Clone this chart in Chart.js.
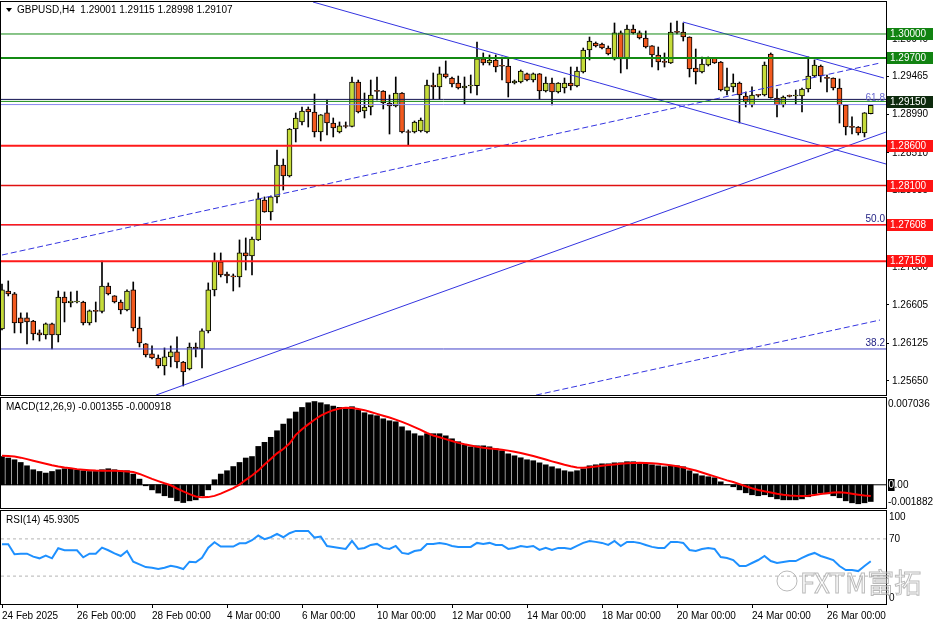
<!DOCTYPE html>
<html>
<head>
<meta charset="utf-8">
<script src="https://cdn.jsdelivr.net/npm/chart.js@4.4.1/dist/chart.umd.min.js"></script>
<style>
  html, body { margin: 0; padding: 0; background: #fff; }
  #wrap { position: relative; width: 936px; height: 624px; overflow: hidden; background: #fff; }
  canvas { position: absolute; left: 0; }
</style>
</head>
<body>
<div id="wrap">
  <canvas id="main" width="936" height="398" style="top:0"></canvas>
  <canvas id="macd" width="936" height="112" style="top:397px"></canvas>
  <canvas id="rsi" width="936" height="115" style="top:509px"></canvas>
</div>
<script>
// GBPUSD H4, 24 Feb - 26 Mar 2025, one entry per bar
const symbol = 'GBPUSD,H4';

const open = [
  1.26302,1.26778,1.26741,1.26440,1.26440,1.26402,1.26252,1.26227,1.26365,1.26227,
  1.26703,1.26628,1.26640,1.26640,1.26377,1.26528,1.26522,1.26841,1.26716,1.26640,
  1.26540,1.26791,1.26314,1.26114,1.25989,1.25938,1.25838,1.25951,1.26014,1.25888,
  1.25801,1.26076,1.26051,1.26277,1.26791,1.27142,1.26991,1.26960,1.26954,1.27255,
  1.27217,1.27418,1.27919,1.27769,1.27957,1.28358,1.28220,1.28809,1.28897,1.29060,
  1.29022,1.28771,1.29010,1.28884,1.28771,1.28847,1.28840,1.29398,1.29035,1.29085,
  1.29285,1.29285,1.29135,1.29097,1.29260,1.28771,1.28771,1.28784,1.28771,1.29361,
  1.29336,1.29499,1.29448,1.29386,1.29323,1.29348,1.29352,1.29687,1.29636,1.29674,
  1.29599,1.29599,1.29386,1.29398,1.29499,1.29423,1.29499,1.29285,1.29386,1.29273,
  1.29323,1.29386,1.29348,1.29524,1.29799,1.29887,1.29875,1.29824,1.29687,1.30013,
  1.29687,1.30063,1.30013,1.29950,1.29850,1.29737,1.29649,1.29636,1.30025,1.30025,
  1.29962,1.29574,1.29524,1.29611,1.29699,1.29649,1.29285,1.29336,1.29386,1.29223,
  1.29110,1.29235,1.29235,1.29749,1.29198,1.29110,1.29223,1.29223,1.29223,1.29310,
  1.29473,1.29599,1.29448,1.29448,1.29323,1.29110,1.28834,1.28834,1.28759,1.29001
];
const high = [
  1.26866,1.26904,1.26760,1.26503,1.26503,1.26410,1.26289,1.26377,1.26377,1.26778,
  1.26766,1.26766,1.26778,1.26650,1.26540,1.26640,1.27154,1.26879,1.26720,1.26665,
  1.26791,1.26891,1.26452,1.26120,1.26089,1.25976,1.26064,1.26089,1.26202,1.25895,
  1.26126,1.26126,1.26302,1.26879,1.27255,1.27255,1.27016,1.26991,1.27418,1.27443,
  1.27455,1.28007,1.27957,1.27969,1.28546,1.28433,1.28815,1.29010,1.29085,1.29085,
  1.29248,1.28990,1.29172,1.28947,1.28897,1.28897,1.29461,1.29423,1.29260,1.29423,
  1.29461,1.29290,1.29235,1.29461,1.29265,1.28797,1.28909,1.28947,1.29423,1.29511,
  1.29586,1.29662,1.29460,1.29473,1.29461,1.29486,1.29900,1.29762,1.29737,1.29737,
  1.29712,1.29699,1.29423,1.29549,1.29511,1.29511,1.29505,1.29461,1.29448,1.29390,
  1.29448,1.29586,1.29586,1.29824,1.29962,1.29900,1.29887,1.29850,1.30138,1.30038,
  1.30113,1.30113,1.30038,1.30038,1.29855,1.29837,1.29762,1.30138,1.30163,1.30138,
  1.29965,1.29812,1.29712,1.29712,1.29705,1.29655,1.29574,1.29499,1.29398,1.29273,
  1.29336,1.29240,1.29649,1.29762,1.29310,1.29223,1.29235,1.29298,1.29323,1.29712,
  1.29674,1.29611,1.29486,1.29450,1.29436,1.29115,1.28960,1.28840,1.29015,1.29115
];
const low = [
  1.26289,1.26716,1.26252,1.26252,1.26114,1.26164,1.26151,1.26176,1.26051,1.26139,
  1.26390,1.26578,1.26628,1.26352,1.26352,1.26390,1.26503,1.26728,1.26628,1.26490,
  1.26528,1.26277,1.26076,1.25951,1.25926,1.25813,1.25725,1.25826,1.25813,1.25587,
  1.25788,1.25951,1.25813,1.26252,1.26716,1.26954,1.26879,1.26778,1.26828,1.27041,
  1.26979,1.27410,1.27765,1.27668,1.27881,1.28044,1.28207,1.28646,1.28859,1.28834,
  1.28709,1.28659,1.28734,1.28709,1.28759,1.28822,1.28835,1.29010,1.28947,1.28985,
  1.29172,1.29060,1.28746,1.29085,1.28759,1.28608,1.28759,1.28771,1.28759,1.29185,
  1.29185,1.29448,1.29336,1.29310,1.29122,1.29260,1.29235,1.29611,1.29611,1.29524,
  1.29423,1.29210,1.29373,1.29386,1.29411,1.29398,1.29185,1.29273,1.29110,1.29260,
  1.29260,1.29298,1.29336,1.29511,1.29674,1.29837,1.29812,1.29737,1.29674,1.29511,
  1.29561,1.30000,1.29937,1.29824,1.29586,1.29549,1.29586,1.29630,1.30000,1.29912,
  1.29461,1.29373,1.29511,1.29599,1.29630,1.29285,1.29235,1.29273,1.28884,1.29085,
  1.29085,1.29210,1.29223,1.29195,1.28960,1.29085,1.29210,1.29122,1.29022,1.29273,
  1.29461,1.29398,1.29273,1.29298,1.28884,1.28734,1.28746,1.28734,1.28709,1.28998
];
const close = [
  1.26791,1.26741,1.26377,1.26377,1.26390,1.26239,1.26227,1.26365,1.26227,1.26703,
  1.26628,1.26653,1.26645,1.26377,1.26528,1.26522,1.26841,1.26741,1.26640,1.26540,
  1.26778,1.26314,1.26126,1.25976,1.25938,1.25838,1.25951,1.26014,1.25888,1.25763,
  1.26076,1.26051,1.26277,1.26791,1.27154,1.26979,1.26966,1.26954,1.27255,1.27217,
  1.27430,1.27932,1.27769,1.27957,1.28358,1.28220,1.28809,1.28947,1.29035,1.29022,
  1.28771,1.28985,1.28884,1.28822,1.28847,1.28840,1.29398,1.29022,1.29085,1.29235,
  1.29280,1.29135,1.29097,1.29260,1.28771,1.28765,1.28897,1.28922,1.29361,1.29336,
  1.29499,1.29461,1.29373,1.29323,1.29348,1.29352,1.29687,1.29636,1.29674,1.29586,
  1.29595,1.29386,1.29411,1.29536,1.29423,1.29499,1.29285,1.29386,1.29273,1.29386,
  1.29386,1.29348,1.29536,1.29799,1.29912,1.29850,1.29824,1.29749,1.30013,1.29687,
  1.30063,1.30013,1.29950,1.29837,1.29737,1.29649,1.29645,1.30025,1.30020,1.29962,
  1.29561,1.29524,1.29624,1.29699,1.29636,1.29298,1.29336,1.29386,1.29235,1.29147,
  1.29235,1.29230,1.29611,1.29198,1.29110,1.29210,1.29218,1.29228,1.29310,1.29473,
  1.29611,1.29473,1.29443,1.29323,1.29110,1.28834,1.28830,1.28759,1.29010,1.29107
];

// MACD(12,26,9): main histogram and signal line
const macdMain = [
  0.00229,0.00217,0.00203,0.00181,0.00154,0.00122,0.00108,0.00095,0.00108,0.00122,
  0.00130,0.00130,0.00122,0.00114,0.00108,0.00108,0.00122,0.00130,0.00122,0.00114,
  0.00114,0.00087,0.00046,-0.00008,-0.00041,-0.00067,-0.00089,-0.00103,-0.00130,-0.00144,
  -0.00130,-0.00122,-0.00089,-0.00041,0.00041,0.00087,0.00114,0.00148,0.00181,0.00217,
  0.00229,0.00311,0.00344,0.00385,0.00438,0.00492,0.00535,0.00590,0.00627,0.00665,
  0.00675,0.00665,0.00650,0.00638,0.00628,0.00624,0.00633,0.00608,0.00584,0.00568,
  0.00560,0.00535,0.00519,0.00511,0.00470,0.00438,0.00414,0.00397,0.00414,0.00414,
  0.00414,0.00397,0.00373,0.00349,0.00324,0.00308,0.00316,0.00316,0.00308,0.00292,
  0.00276,0.00251,0.00235,0.00219,0.00203,0.00195,0.00178,0.00162,0.00146,0.00130,
  0.00114,0.00105,0.00114,0.00130,0.00154,0.00162,0.00170,0.00170,0.00178,0.00178,
  0.00187,0.00187,0.00178,0.00170,0.00162,0.00154,0.00146,0.00154,0.00154,0.00146,
  0.00114,0.00089,0.00073,0.00065,0.00057,0.00024,0.00002,-0.00016,-0.00041,-0.00065,
  -0.00081,-0.00089,-0.00081,-0.00097,-0.00114,-0.00122,-0.00122,-0.00122,-0.00114,-0.00097,
  -0.00073,-0.00065,-0.00073,-0.00089,-0.00105,-0.00130,-0.00146,-0.00154,-0.00146,-0.001355
];
const macdSignal = [
  0.00235,0.00233,0.00230,0.00220,0.00208,0.00195,0.00183,0.00170,0.00158,0.00148,
  0.00140,0.00134,0.00127,0.00122,0.00118,0.00115,0.00114,0.00114,0.00114,0.00112,
  0.00108,0.00103,0.00088,0.00068,0.00048,0.00030,0.00012,-0.00004,-0.00030,-0.00054,
  -0.00076,-0.00095,-0.00102,-0.00100,-0.00090,-0.00072,-0.00050,-0.00027,0.00002,0.00040,
  0.00075,0.00115,0.00165,0.00210,0.00255,0.00290,0.00335,0.00405,0.00450,0.00490,
  0.00527,0.00560,0.00585,0.00605,0.00618,0.00624,0.00622,0.00615,0.00605,0.00590,
  0.00575,0.00560,0.00545,0.00528,0.00510,0.00490,0.00468,0.00445,0.00420,0.00400,
  0.00385,0.00370,0.00355,0.00340,0.00328,0.00318,0.00308,0.00300,0.00295,0.00290,
  0.00284,0.00277,0.00268,0.00258,0.00246,0.00233,0.00219,0.00205,0.00190,0.00176,
  0.00162,0.00150,0.00140,0.00138,0.00142,0.00148,0.00154,0.00160,0.00165,0.00170,
  0.00174,0.00177,0.00178,0.00177,0.00175,0.00170,0.00165,0.00158,0.00150,0.00140,
  0.00128,0.00116,0.00100,0.00084,0.00068,0.00052,0.00036,0.00022,0.00005,-0.00012,
  -0.00028,-0.00042,-0.00053,-0.00062,-0.00072,-0.00080,-0.00086,-0.00089,-0.00090,-0.00088,
  -0.00082,-0.00075,-0.00068,-0.00062,-0.00060,-0.00064,-0.00072,-0.00080,-0.00087,-0.000918
];

// RSI(14)
const rsi = [
  64.2,64.2,53.5,54.1,54.1,50.9,49.1,52.0,49.1,59.9,
  57.8,57.8,57.8,50.2,54.1,54.1,60.6,57.8,54.5,51.6,
  57.0,45.5,42.6,39.7,39.0,37.6,39.0,41.1,39.7,37.6,
  45.5,44.8,49.8,60.6,66.4,61.7,61.7,61.7,65.3,65.3,
  68.6,73.6,69.7,71.8,75.4,71.8,76.1,78.6,78.6,78.6,
  71.4,72.5,62.4,61.4,60.3,59.2,67.8,59.2,60.3,63.5,
  64.6,60.3,59.2,62.4,54.9,53.8,57.0,58.1,64.6,64.6,
  65.7,64.6,62.4,61.4,61.4,61.4,65.7,64.6,65.7,63.5,
  63.5,59.2,60.3,62.4,61.4,62.4,58.1,60.3,58.1,60.3,
  60.3,59.2,62.4,65.7,67.8,66.8,65.7,63.5,67.8,62.4,
  66.8,66.8,65.7,63.5,61.4,60.3,60.3,66.8,66.8,65.7,
  58.1,57.0,59.2,60.3,59.2,50.5,49.5,47.3,40.8,40.8,
  44.1,47.3,51.6,46.2,44.1,45.1,46.2,46.2,49.5,52.7,
  54.9,51.6,49.5,47.3,40.8,36.5,36.5,35.4,40.8,45.9305
];

// time axis: bar index of each date label
const dateTickBars = [0, 12, 24, 36, 48, 60, 72, 84, 96, 108, 120, 132];
const dateLabels = ['24 Feb 2025', '26 Feb 00:00', '28 Feb 00:00', '4 Mar 00:00', '6 Mar 00:00', '10 Mar 00:00',
  '12 Mar 00:00', '14 Mar 00:00', '18 Mar 00:00', '20 Mar 00:00', '24 Mar 00:00', '26 Mar 00:00'];

// price scale
const priceTicks = [1.29940, 1.29465, 1.28990, 1.28510, 1.28035, 1.27560, 1.27080, 1.26605, 1.26125, 1.25650];

// horizontal levels drawn across the main window
const levelPrices = [1.30000, 1.29700, 1.29180, 1.29155, 1.28600, 1.28100, 1.27608, 1.27150];
const levelColors = ['#138a13', '#138a13', '#101050', '#138a13', '#ff1a1a', '#e01010', '#ff1a1a', '#ff1a1a'];
const levelWidths = [1, 2, 1, 1, 2, 1.5, 1.5, 2];

// price tags on the right axis
const tagPrices = [1.30000, 1.29700, 1.29150, 1.28600, 1.28100, 1.27608, 1.27150];
const tagColors = ['#128312', '#128312', '#0d2a0d', '#ff1414', '#ff1414', '#ff1414', '#ff1414'];

// fibonacci retracement levels
const fibNames = ['61.8', '50.0', '38.2'];
const fibPrices = [1.29115, 1.27608, 1.26051];
const fibColors = ['#8888ee', '#3030c0', '#4040c8'];
const fibTextColors = ['#6a6ad0', '#1c1c80', '#1c1c80'];

// trend lines: [bar, price] at each end
const trendFrom = [[49.76, 1.30401], [108.96, 1.30150], [24.64, 1.25473], [0, 1.27229], [85.44, 1.25473]];
const trendTo = [[141.44, 1.28370], [141.1, 1.29448], [141.44, 1.28771], [140.48, 1.29636], [140.48, 1.26414]];
const trendDashed = [false, false, false, true, true];

const X_MIN = -0.16, X_MAX = 141.44;
const BULL = '#c6dc3a', BEAR = '#f25a1f', TREND = '#3434e0';
const FONT = '"Liberation Sans", Arial, sans-serif';

Chart.defaults.font.family = FONT;
Chart.defaults.font.size = 10;
Chart.defaults.color = '#000';
Chart.defaults.animation = false;
Chart.defaults.events = [];
Chart.defaults.plugins.legend.display = false;
Chart.defaults.plugins.tooltip.enabled = false;

const n = close.length;

function segment(x1, y1, x2, y2, color, width, dash, order) {
  return {
    type: 'line',
    data: [{x: x1, y: y1}, {x: x2, y: y2}],
    borderColor: color, borderWidth: width, borderDash: dash || [],
    pointRadius: 0, tension: 0, order: order || 1
  };
}

function fixRight(scale) {
  scale.width = 50;
  scale.paddingTop = 0;
  scale.paddingBottom = 0;
}

const xHidden = {type: 'linear', min: X_MIN, max: X_MAX, offset: false, display: false, grid: {offset: false}};

const frame = {
  id: 'frame',
  afterDraw(chart) {
    const {ctx, chartArea: a} = chart;
    ctx.save();
    ctx.strokeStyle = '#000';
    ctx.lineWidth = 1;
    ctx.strokeRect(Math.round(a.left) - 0.5, Math.round(a.top) - 0.5,
      Math.round(a.right - a.left) + 1, Math.round(a.bottom - a.top) + 1);
    ctx.restore();
  }
};

// ---------- main price window ----------
const wicks = [], bodies = [], bodyColors = [];
for (let i = 0; i < n; i++) {
  wicks.push({x: i, y: [low[i], high[i]]});
  bodies.push({x: i, y: [open[i], close[i]]});
  bodyColors.push(close[i] >= open[i] ? BULL : BEAR);
}

const mainSets = [
  {type: 'bar', data: wicks, backgroundColor: '#000', barThickness: 1, grouped: false, order: 6},
  {type: 'bar', data: bodies, backgroundColor: bodyColors, borderColor: '#000', borderWidth: 1,
   borderSkipped: false, barThickness: 5, grouped: false, minBarLength: 1, order: 5}
];
fibPrices.forEach((p, k) => mainSets.push(segment(X_MIN, p, X_MAX, p, fibColors[k], 1, null, 2)));
levelPrices.forEach((p, k) => mainSets.push(segment(X_MIN, p, X_MAX, p, levelColors[k], levelWidths[k], null, 1)));
trendFrom.forEach((s, k) => mainSets.push(segment(s[0], s[1], trendTo[k][0], trendTo[k][1], TREND, 1,
  trendDashed[k] ? [6, 3] : null, 1)));

const mainLabels = {
  id: 'mainLabels',
  afterDraw(chart) {
    const {ctx, chartArea: a} = chart;
    const y = chart.scales.y;
    ctx.save();
    ctx.font = '10px ' + FONT;
    // fibo captions
    ctx.textAlign = 'right';
    ctx.textBaseline = 'bottom';
    fibPrices.forEach((p, k) => {
      ctx.fillStyle = fibTextColors[k];
      ctx.fillText(fibNames[k], a.right - 1, y.getPixelForValue(p) - 1);
    });
    // price tags
    ctx.textAlign = 'left';
    ctx.textBaseline = 'middle';
    tagPrices.forEach((p, k) => {
      const py = Math.round(y.getPixelForValue(p));
      ctx.fillStyle = tagColors[k];
      ctx.fillRect(a.right + 1, py - 6, 46, 12);
      ctx.fillStyle = '#fff';
      ctx.fillText(p.toFixed(5), a.right + 4, py);
    });
    // header
    ctx.fillStyle = '#000';
    ctx.beginPath();
    ctx.moveTo(6, 8); ctx.lineTo(12, 8); ctx.lineTo(9, 12); ctx.closePath();
    ctx.fill();
    ctx.fillText(symbol + '  ' + open[n - 1].toFixed(5) + ' ' + high[n - 1].toFixed(5) + ' ' +
      low[n - 1].toFixed(5) + ' ' + close[n - 1].toFixed(5), 17, 10);
    ctx.restore();
  }
};

new Chart(document.getElementById('main'), {
  type: 'bar',
  data: {datasets: mainSets},
  options: {
    responsive: false,
    devicePixelRatio: 1,
    layout: {padding: {left: 1, top: 2, right: 0, bottom: 3}},
    scales: {
      x: xHidden,
      y: {
        type: 'linear', position: 'right', min: 1.25474, max: 1.30401,
        afterBuildTicks: s => { s.ticks = priceTicks.map(v => ({value: v})); },
        afterFit: fixRight,
        ticks: {callback: v => Number(v).toFixed(5), padding: 3, autoSkip: false},
        grid: {drawOnChartArea: false, drawTicks: true, tickLength: 3, color: '#000'},
        border: {display: true, color: '#000'}
      }
    }
  },
  plugins: [frame, mainLabels]
});

// ---------- MACD window ----------
const macdLabels = {
  id: 'macdLabels',
  afterDraw(chart) {
    const {ctx, chartArea: a} = chart;
    const y = chart.scales.y;
    ctx.save();
    ctx.font = '10px ' + FONT;
    ctx.fillStyle = '#000';
    ctx.textAlign = 'left';
    ctx.textBaseline = 'middle';
    ctx.fillText('MACD(12,26,9) ' + macdMain[n - 1].toFixed(6) + ' ' + macdSignal[n - 1].toFixed(6), a.left + 5, a.top + 9);
    const x0 = a.right + 2;
    ctx.textBaseline = 'top';
    ctx.fillText(y.max.toFixed(6), x0, a.top + 1);
    ctx.textBaseline = 'bottom';
    ctx.fillText(y.min.toFixed(6), x0, a.bottom - 1);
    const zy = Math.round(y.getPixelForValue(0));
    const w0 = ctx.measureText('0').width;
    ctx.fillRect(x0, zy - 6, w0 + 1, 12);
    ctx.textBaseline = 'middle';
    ctx.fillStyle = '#fff';
    ctx.fillText('0', x0 + 0.5, zy);
    ctx.fillStyle = '#000';
    ctx.fillText('.00', x0 + w0 + 1, zy);
    ctx.restore();
  }
};

new Chart(document.getElementById('macd'), {
  type: 'bar',
  data: {
    datasets: [
      {type: 'bar', data: macdMain.map((v, i) => ({x: i, y: v})), backgroundColor: '#000',
       barThickness: 5, grouped: false, order: 3},
      segment(X_MIN, 0, X_MAX, 0, '#000', 1, null, 2),
      {type: 'line', data: macdSignal.map((v, i) => ({x: i, y: v})), borderColor: '#ff0000',
       borderWidth: 2, pointRadius: 0, tension: 0, order: 1}
    ]
  },
  options: {
    responsive: false,
    devicePixelRatio: 1,
    layout: {padding: {left: 1, top: 1, right: 0, bottom: 1}},
    scales: {
      x: xHidden,
      y: {
        type: 'linear', position: 'right', min: -0.001882, max: 0.007036,
        afterFit: fixRight,
        ticks: {display: false},
        grid: {display: false},
        border: {display: false}
      }
    }
  },
  plugins: [frame, macdLabels]
});

// ---------- RSI window ----------
const rsiLabels = {
  id: 'rsiLabels',
  afterDraw(chart) {
    const {ctx, chartArea: a} = chart;
    const y = chart.scales.y;
    ctx.save();
    ctx.font = '10px ' + FONT;
    ctx.fillStyle = '#000';
    ctx.textAlign = 'left';
    ctx.textBaseline = 'middle';
    ctx.fillText('RSI(14) ' + rsi[n - 1].toFixed(4), a.left + 5, a.top + 9);
    const x0 = a.right + 3;
    ctx.textBaseline = 'top';
    ctx.fillText('100', x0, a.top + 1);
    ctx.textBaseline = 'middle';
    ctx.fillText('70', x0, y.getPixelForValue(70));
    ctx.textBaseline = 'bottom';
    ctx.fillText('0', x0, a.bottom - 1);
    // broker watermark
    ctx.globalAlpha = 0.6;
    ctx.strokeStyle = '#8c8c8c';
    ctx.lineWidth = 1;
    ctx.beginPath();
    ctx.arc(787, 72, 10, 0, Math.PI * 2);
    ctx.stroke();
    ctx.font = '27px "Noto Sans CJK SC", sans-serif';
    ctx.textBaseline = 'alphabetic';
    ctx.fillStyle = 'rgba(255,255,255,0.6)';
    ctx.fillText('FXTM富拓', 800, 84);
    ctx.strokeText('FXTM富拓', 800, 84);
    ctx.restore();
  }
};

new Chart(document.getElementById('rsi'), {
  type: 'line',
  data: {
    datasets: [
      segment(X_MIN, 70, X_MAX, 70, '#b4b4b4', 1, [3, 3], 2),
      segment(X_MIN, 30, X_MAX, 30, '#b4b4b4', 1, [3, 3], 2),
      {type: 'line', data: rsi.map((v, i) => ({x: i, y: v})), borderColor: '#1e90ff',
       borderWidth: 2, pointRadius: 0, tension: 0, order: 1}
    ]
  },
  options: {
    responsive: false,
    devicePixelRatio: 1,
    layout: {padding: {left: 1, top: 2, right: 0, bottom: 0}},
    scales: {
      x: {
        type: 'linear', min: X_MIN, max: X_MAX, offset: false, position: 'bottom',
        afterBuildTicks: s => { s.ticks = dateTickBars.map(v => ({value: v})); },
        afterFit: s => { s.height = 20; s.paddingLeft = 0; s.paddingRight = 0; },
        ticks: {
          callback: v => dateLabels[dateTickBars.indexOf(v)],
          align: 'start', maxRotation: 0, minRotation: 0, autoSkip: false, padding: 2
        },
        grid: {drawOnChartArea: false, drawTicks: true, tickLength: 4, color: '#000'},
        border: {display: false}
      },
      y: {
        type: 'linear', position: 'right', min: 0, max: 100,
        afterFit: fixRight,
        ticks: {display: false},
        grid: {display: false},
        border: {display: false}
      }
    }
  },
  plugins: [frame, rsiLabels]
});
</script>
</body>
</html>
